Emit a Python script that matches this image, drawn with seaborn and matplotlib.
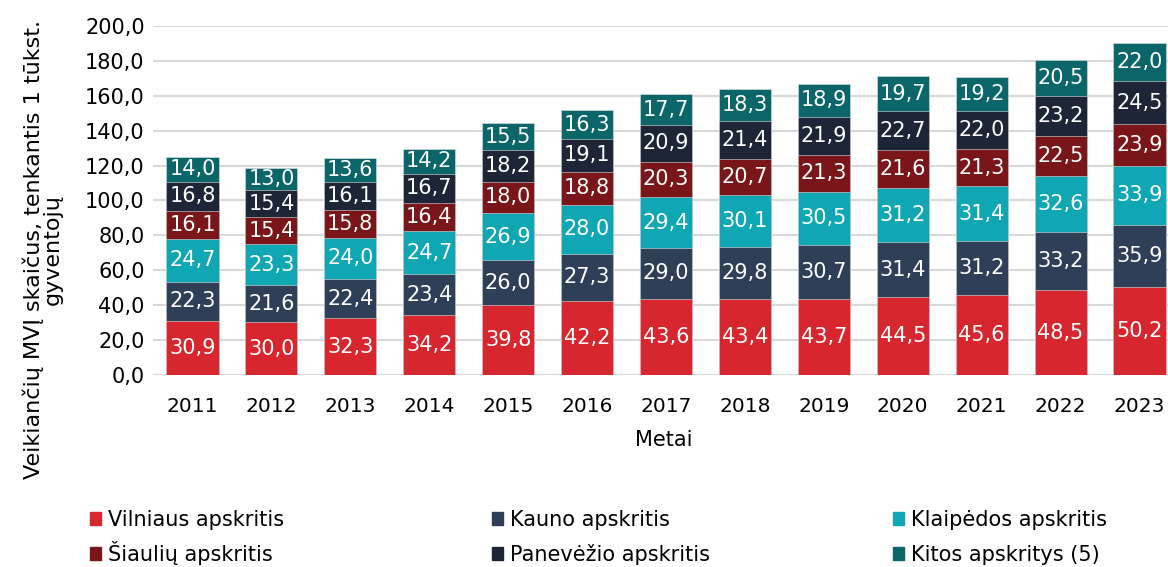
import numpy as np
import pandas as pd
import seaborn as sns
import matplotlib.pyplot as plt
from matplotlib.patches import Patch

years = ['2011', '2012', '2013', '2014', '2015', '2016', '2017',
         '2018', '2019', '2020', '2021', '2022', '2023']
vilnius = [30.9, 30.0, 32.3, 34.2, 39.8, 42.2, 43.6, 43.4, 43.7, 44.5, 45.6, 48.5, 50.2]
kaunas = [22.3, 21.6, 22.4, 23.4, 26.0, 27.3, 29.0, 29.8, 30.7, 31.4, 31.2, 33.2, 35.9]
klaipeda = [24.7, 23.3, 24.0, 24.7, 26.9, 28.0, 29.4, 30.1, 30.5, 31.2, 31.4, 32.6, 33.9]
siauliai = [16.1, 15.4, 15.8, 16.4, 18.0, 18.8, 20.3, 20.7, 21.3, 21.6, 21.3, 22.5, 23.9]
panevezys = [16.8, 15.4, 16.1, 16.7, 18.2, 19.1, 20.9, 21.4, 21.9, 22.7, 22.0, 23.2, 24.5]
kitos = [14.0, 13.0, 13.6, 14.2, 15.5, 16.3, 17.7, 18.3, 18.9, 19.7, 19.2, 20.5, 22.0]

series = ['Vilniaus apskritis', 'Kauno apskritis', 'Klaipėdos apskritis',
          'Šiaulių apskritis', 'Panevėžio apskritis', 'Kitos apskritys (5)']
colors = ['#D7262E', '#2F3F57', '#10A7B5', '#7A1619', '#1D2536', '#0B6669']

df = pd.DataFrame(dict(zip(series, [vilnius, kaunas, klaipeda, siauliai, panevezys, kitos])),
                  index=years)
cum = df.cumsum(axis=1)

sns.set_style('white')
plt.rcParams['font.family'] = ['DejaVu Sans']
plt.rcParams['text.color'] = 'black'
plt.rcParams['xtick.color'] = 'black'
plt.rcParams['ytick.color'] = 'black'
plt.rcParams['axes.labelcolor'] = 'black'

fig = plt.figure(figsize=(11.68, 5.67), dpi=100)
ax = fig.add_axes([0.131, 0.339, 0.875, 0.615])

# draw cumulative totals from top to bottom so the stack shows through
for name, col in reversed(list(zip(series, colors))):
    sns.barplot(x=years, y=cum[name].values, color=col, saturation=1, width=0.66,
                edgecolor='#e0e0e0', linewidth=0.4, ax=ax, zorder=3)

for i, yr in enumerate(years):
    bottom = 0
    for name in series:
        v = df.loc[yr, name]
        ax.text(i, bottom + v / 2, f"{v:.1f}".replace('.', ','), ha='center', va='center',
                color='white', fontsize=15, zorder=4)
        bottom += v

ax.set_ylim(0, 200)
ax.set_xlim(-0.5, 12.45)
ax.set_yticks(np.arange(0, 201, 20))
ax.set_yticklabels([f"{t:.1f}".replace('.', ',') for t in np.arange(0, 201, 20)], fontsize=15)
ax.tick_params(axis='x', labelsize=14.5, pad=16, length=0)
ax.tick_params(axis='y', length=0, pad=6)
ax.grid(axis='y', color='#d9d9d9', linewidth=1.5, zorder=0)
ax.set_axisbelow(True)
for s in ax.spines.values():
    s.set_visible(False)

ax.set_xlabel('Metai', fontsize=15, labelpad=10)
ax.set_ylabel('Veikiančių MVĮ skaičus, tenkantis 1 tūkst.\ngyventojų', fontsize=16,
              linespacing=0.95)
ax.yaxis.set_label_coords(-0.088, 0.36)

# legend: 3 columns x 2 rows, one entry per legend, anchored at the bottom so baselines line up
rows_bottom = [530, 565]
cols_x = [90, 492, 893]
for k, (name, col) in enumerate(zip(series, colors)):
    r, c = divmod(k, 3)
    fig.legend(handles=[Patch(color=col, label=name)], loc='lower left',
               bbox_to_anchor=(cols_x[c] / 1168, 1 - rows_bottom[r] / 567),
               frameon=False, fontsize=15, handlelength=0.55, handleheight=0.55,
               handletextpad=0.3, borderpad=0, borderaxespad=0)

fig.savefig('out.png', dpi=100)
